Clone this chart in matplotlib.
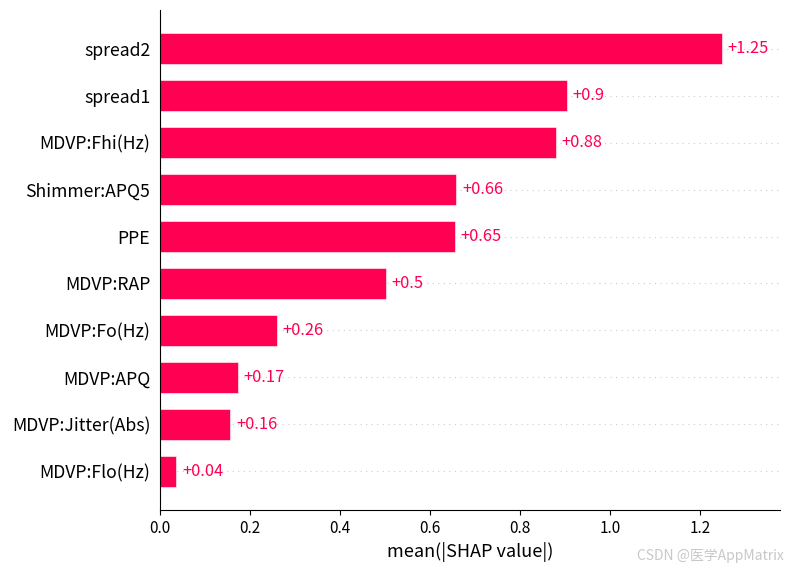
import matplotlib
matplotlib.use("Agg")
from matplotlib import pyplot as plt
import numpy as np

plt.rcParams['font.family'] = ['Noto Sans CJK SC', 'DejaVu Sans']

features = ["spread2", "spread1", "MDVP:Fhi(Hz)", "Shimmer:APQ5", "PPE",
            "MDVP:RAP", "MDVP:Fo(Hz)", "MDVP:APQ", "MDVP:Jitter(Abs)", "MDVP:Flo(Hz)"]
values = [1.249, 0.904, 0.880, 0.658, 0.655, 0.502, 0.260, 0.173, 0.156, 0.036]
labels = ["+1.25", "+0.9", "+0.88", "+0.66", "+0.65", "+0.5", "+0.26", "+0.17", "+0.16", "+0.04"]

red = "#ff0052"

fig = plt.figure(figsize=(7.89, 5.72), dpi=100)
ax = fig.add_axes([160 / 789, 1 - 510 / 572, 620 / 789, 500 / 572])

y_pos = np.arange(len(features))
for y in y_pos:
    ax.axhline(y, color="#cccccc", lw=0.8, dashes=(1, 4), zorder=-1)
ax.barh(y_pos, values, height=0.66, color=red, edgecolor=(1, 1, 1, 0.8), linewidth=0.5)

for y, v, t in zip(y_pos, values, labels):
    ax.text(v + 0.013, y, t, ha="left", va="center", color=red, fontsize=11.8)

ax.set_yticks(y_pos)
ax.set_yticklabels(features, fontsize=12.7)
ax.set_ylim(len(features) - 1 + 0.83, -0.83)
ax.set_xlim(0, 1.378)
ax.set_xticks([0.0, 0.2, 0.4, 0.6, 0.8, 1.0, 1.2])
ax.set_xticklabels(["0.0", "0.2", "0.4", "0.6", "0.8", "1.0", "1.2"], fontsize=11)
ax.tick_params(axis="y", length=0, pad=7)
ax.tick_params(axis="x", labelsize=11)
ax.spines["top"].set_visible(False)
ax.spines["right"].set_visible(False)
ax.set_xlabel("mean(|SHAP value|)", fontsize=13, labelpad=4)

fig.text(784 / 789, 1 - 556 / 572, "CSDN @医学AppMatrix", ha="right", va="center",
         color="#c8c8c8", fontsize=10)

plt.savefig("out.png", dpi=100)
